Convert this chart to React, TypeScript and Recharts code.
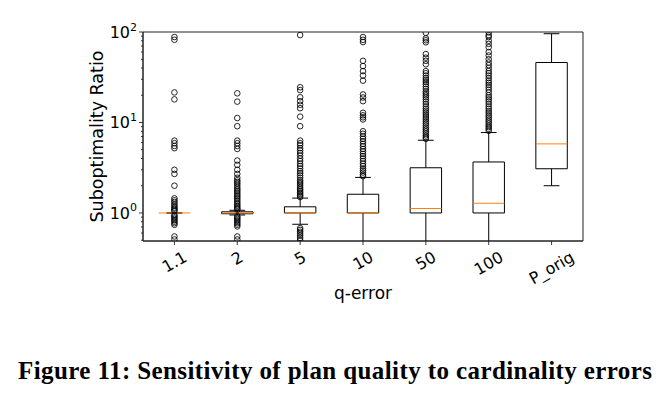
import {
  ComposedChart,
  XAxis,
  YAxis,
  Scatter,
  ReferenceArea,
  ReferenceLine,
} from 'recharts';

// box statistics per q-error setting
const categories = ['1.1', '2', '5', '10', '50', '100', 'P_orig'];
const q1 = [1.0, 0.98, 1.0, 1.0, 1.0, 1.0, 3.08];
const medians = [1.0, 1.0, 1.0, 1.0, 1.12, 1.28, 5.8];
const q3 = [1.0, 1.03, 1.17, 1.61, 3.16, 3.66, 46];
const whiskerLow = [1.0, 0.95, 0.75, 0.3, 0.3, 0.3, 2.0];
const whiskerHigh = [1.0, 1.07, 1.46, 2.47, 6.36, 7.74, 95.7];

// outliers per box
const fliers11 = [
  88, 82, 21.5, 18, 6.3, 5.9, 5.5, 5.2, 3.0, 2.7, 2.0, 1.45, 1.38, 1.32, 1.25, 1.2, 1.15, 1.12,
  1.08, 1.05, 0.95, 0.92, 0.89, 0.86, 0.83, 0.8, 0.77, 0.74, 0.55, 0.51,
];
const fliers2 = [
  21, 17, 11.2, 9.1, 6.3, 5.9, 5.5, 5.1, 3.8, 3.4, 3.0, 2.7, 2.45, 2.3, 2.2, 2.1, 2.0, 1.9, 1.82,
  1.75, 1.68, 1.6, 1.54, 1.48, 1.42, 1.36, 1.3, 1.25, 1.2, 1.16, 1.12, 1.09, 0.92, 0.89, 0.86,
  0.83, 0.8, 0.77, 0.74, 0.71, 0.55, 0.51,
];
const fliers5 = [
  92.5, 24.5, 22.8, 19, 17.2, 15.7, 14.4, 11.6, 9.1, 6.3, 5.9, 5.6, 5.2, 4.9, 4.6, 4.3, 4.0, 3.75,
  3.5, 3.3, 3.1, 2.9, 2.75, 2.6, 2.45, 2.3, 2.2, 2.1, 2.0, 1.9, 1.82, 1.75, 1.68, 1.62, 1.56, 1.5,
  0.68, 0.65, 0.62, 0.59, 0.56, 0.53, 0.5,
];
const fliers10 = [
  88, 82, 77.5, 48, 42, 37, 33, 29, 20.4, 18.9, 17.2, 12.8, 12, 11.4, 10.8, 8.0, 7.5, 7.0, 6.6,
  6.2, 5.8, 5.45, 5.1, 4.8, 4.5, 4.25, 4.0, 3.75, 3.5, 3.3, 3.1, 2.95, 2.8, 2.65, 2.55,
];
const fliers50 = [
  98, 85, 81, 77, 57, 52, 48, 44, 37, 35, 33, 31, 29.5, 28, 26.5, 25, 23.5, 22, 21, 20, 19, 18, 17,
  16, 15, 14.2, 13.5, 12.8, 12.1, 11.5, 10.9, 10.3, 9.8, 9.3, 8.8, 8.4, 8.0, 7.6, 7.2, 6.9, 6.6,
];
const fliers100 = [
  99, 92, 88, 80, 74, 68, 60, 55, 50, 46, 43, 40, 37, 35, 33, 31, 29, 27.5, 26, 24.5, 23, 21.5, 20,
  19, 18, 17, 16, 15, 14.2, 13.4, 12.7, 12, 11.4, 10.8, 10.3, 9.8, 9.3, 8.9, 8.5, 8.1,
];
const fliersOrig: number[] = [];
const fliers = [fliers11, fliers2, fliers5, fliers10, fliers50, fliers100, fliersOrig];

const yTicks = [
  0.5, 0.6, 0.7, 0.8, 0.9, 1, 2, 3, 4, 5, 6, 7, 8, 9, 10, 20, 30, 40, 50, 60, 70, 80, 90, 100,
];
const majorTicks = [1, 10, 100];

const FONT = 'DejaVu Sans';
const INK = '#222';

const flierData = fliers.flatMap((list, i) => list.map((v) => ({ x: i + 1, y: v })));

// rough DejaVu Sans advance widths (per 2048 em) for rotated label centring
const charW: Record<string, number> = {
  '0': 1303, '1': 1303, '2': 1303, '5': 1303, '.': 651,
  P: 1235, _: 1024, o: 1253, r: 842, i: 569, g: 1300,
};

const XTick = (props: any) => {
  const { x, y, payload } = props;
  const label = categories[payload.value - 1] ?? '';
  const fs = 16;
  const w = label.split('').reduce((s, c) => s + (charW[c] ?? 1200), 0) / 2048 * fs;
  const h = fs * 1.1;
  const cy = y + (w * 0.5 + h * 0.866) / 2;
  return (
    <text
      x={x}
      y={cy}
      textAnchor="middle"
      dominantBaseline="central"
      fontSize={fs}
      fontFamily={FONT}
      fill="#000"
      transform={`rotate(-30, ${x}, ${cy})`}
    >
      {label}
    </text>
  );
};

const YTick = (props: any) => {
  const { x, y, payload } = props;
  const v = payload.value;
  const major = majorTicks.includes(v);
  return (
    <g>
      <line x1={x - (major ? 4 : 2)} x2={x} y1={y} y2={y} stroke={INK} strokeWidth={0.9} />
      {major && (
        <text x={x - 6} y={y + 6} textAnchor="end" fontSize={16} fontFamily={FONT} fill="#000">
          10
          <tspan fontSize={11} dy={-7.5}>
            {Math.round(Math.log10(v))}
          </tspan>
        </text>
      )}
    </g>
  );
};

const YLabel = (props: any) => {
  const vb = props.viewBox;
  const x = vb.x + vb.width - 46;
  const y = vb.y + vb.height / 2;
  return (
    <text
      x={x}
      y={y}
      textAnchor="middle"
      dominantBaseline="central"
      fontSize={17.5}
      fontFamily={FONT}
      fill="#000"
      transform={`rotate(-90, ${x}, ${y})`}
    >
      Suboptimality Ratio
    </text>
  );
};

const XLabel = (props: any) => {
  const vb = props.viewBox;
  return (
    <text
      x={vb.x + vb.width / 2}
      y={vb.y + 58}
      textAnchor="middle"
      fontSize={17}
      fontFamily={FONT}
      fill="#000"
    >
      q-error
    </text>
  );
};

const Flier = (props: any) => (
  <circle cx={props.cx} cy={props.cy} r={2.8} fill="none" stroke="#000" strokeWidth={0.85} />
);

export default function App() {
  const boxes = categories.flatMap((c, i) => {
    const p = i + 1;
    return [
      <ReferenceLine
        key={`wl${c}`}
        segment={[{ x: p, y: q1[i] }, { x: p, y: whiskerLow[i] }]}
        stroke="#000"
        strokeWidth={1}
        ifOverflow="hidden"
      />,
      <ReferenceLine
        key={`wh${c}`}
        segment={[{ x: p, y: q3[i] }, { x: p, y: whiskerHigh[i] }]}
        stroke="#000"
        strokeWidth={1}
        ifOverflow="hidden"
      />,
      <ReferenceLine
        key={`cl${c}`}
        segment={[{ x: p - 0.125, y: whiskerLow[i] }, { x: p + 0.125, y: whiskerLow[i] }]}
        stroke="#000"
        strokeWidth={1}
        ifOverflow="hidden"
      />,
      <ReferenceLine
        key={`ch${c}`}
        segment={[{ x: p - 0.125, y: whiskerHigh[i] }, { x: p + 0.125, y: whiskerHigh[i] }]}
        stroke="#000"
        strokeWidth={1}
        ifOverflow="hidden"
      />,
      <ReferenceArea
        key={`b${c}`}
        x1={p - 0.25}
        x2={p + 0.25}
        y1={q1[i]}
        y2={q3[i]}
        fill="#fff"
        fillOpacity={0}
        stroke="#000"
        strokeWidth={1}
        ifOverflow="hidden"
      />,
      <ReferenceLine
        key={`m${c}`}
        segment={[{ x: p - 0.25, y: medians[i] }, { x: p + 0.25, y: medians[i] }]}
        stroke="#ff7f0e"
        strokeWidth={1}
        ifOverflow="hidden"
      />,
    ];
  });

  return (
    <div style={{ position: 'absolute', left: 0, top: 0, width: 662, height: 398, background: '#fff' }}>
      <ComposedChart
        width={662}
        height={310}
        data={flierData}
        margin={{ top: 32, right: 79, bottom: 0, left: 0 }}
      >
        <XAxis
          dataKey="x"
          type="number"
          domain={[0.5, 7.5]}
          ticks={[1, 2, 3, 4, 5, 6, 7]}
          interval={0}
          allowDataOverflow
          height={69}
          tickSize={4}
          tickMargin={3}
          tick={<XTick />}
          stroke={INK}
          axisLine={{ stroke: INK, strokeWidth: 1 }}
          tickLine={{ stroke: INK, strokeWidth: 0.9 }}
          label={<XLabel />}
        />
        <YAxis
          dataKey="y"
          type="number"
          scale="log"
          domain={[0.49, 100]}
          allowDataOverflow
          ticks={yTicks}
          interval={0}
          width={143}
          tickSize={0}
          tickMargin={0}
          tick={<YTick />}
          tickLine={false}
          axisLine={{ stroke: INK, strokeWidth: 1 }}
          label={<YLabel />}
        />
        {/* plot frame (top and right spines) */}
        <ReferenceArea
          x1={0.5}
          x2={7.5}
          fill="#fff"
          fillOpacity={0}
          stroke={INK}
          strokeWidth={1}
          ifOverflow="visible"
        />
        {boxes}
        <Scatter dataKey="y" shape={<Flier />} isAnimationActive={false} />
      </ComposedChart>
      <svg width={662} height={60} style={{ position: 'absolute', left: 0, top: 340 }}>
        <text
          x={18}
          y={38.5}
          textLength={634}
          lengthAdjust="spacing"
          fontSize={25}
          fontWeight="bold"
          fontFamily="Liberation Serif"
          fill="#000"
        >
          Figure 11: Sensitivity of plan quality to cardinality errors
        </text>
      </svg>
    </div>
  );
}
